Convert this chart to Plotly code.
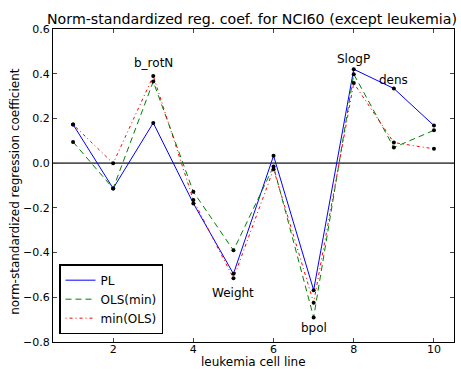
import plotly.graph_objects as go

cell_line = [1, 2, 3, 4, 5, 6, 7, 8, 9, 10]
pl = [0.173, -0.113, 0.180, -0.180, -0.495, 0.033, -0.568, 0.420, 0.334, 0.168]
ols_min = [0.095, -0.113, 0.365, -0.128, -0.390, -0.015, -0.690, 0.398, 0.070, 0.147]
min_ols = [0.173, -0.001, 0.390, -0.165, -0.515, -0.027, -0.624, 0.358, 0.092, 0.064]

labels = ["b_rotN", "Weight", "bpol", "SlogP", "dens"]
label_x = [3, 5, 7, 8, 9]
label_y = [0.448, -0.58, -0.737, 0.468, 0.37]

y_ticks = [-0.8, -0.6, -0.4, -0.2, 0.0, 0.2, 0.4, 0.6]
x_ticks = [2, 4, 6, 8, 10]

font = "DejaVu Sans"
fig = go.Figure()

fig.add_shape(type="line", xref="paper", x0=0, x1=1, yref="y", y0=0, y1=0,
              line=dict(color="#555555", width=1.6), layer="below")

fig.add_trace(go.Scatter(x=cell_line, y=pl, mode="lines", name="PL",
                         line=dict(color="#0000ff", width=1)))
fig.add_trace(go.Scatter(x=cell_line, y=ols_min, mode="lines", name="OLS(min)",
                         line=dict(color="#008000", width=1, dash="6px,4px")))
fig.add_trace(go.Scatter(x=cell_line, y=min_ols, mode="lines", name="min(OLS)",
                         line=dict(color="#ff0000", width=1, dash="1px,3px,3px,3px")))
for ys in (pl, ols_min, min_ols):
    fig.add_trace(go.Scatter(x=cell_line, y=ys, mode="markers", showlegend=False,
                             marker=dict(color="black", size=4), hoverinfo="skip"))

for t, x, y in zip(labels, label_x, label_y):
    fig.add_annotation(x=x, y=y, text=t, showarrow=False,
                       font=dict(family=font, size=12, color="black"))

# title and axis titles as annotations for precise placement
fig.add_annotation(xref="paper", yref="paper", x=0.497, y=1.0, yshift=10,
                   text="Norm-standardized reg. coef. for NCI60 (except leukemia)",
                   showarrow=False, xanchor="center", yanchor="middle",
                   font=dict(family=font, size=14.2, color="black"))
fig.add_annotation(xref="paper", yref="paper", x=0.5, y=0, yshift=-20,
                   text="leukemia cell line", showarrow=False,
                   xanchor="center", yanchor="middle",
                   font=dict(family=font, size=12, color="black"))
fig.add_annotation(xref="paper", yref="paper", x=0, xshift=-38, y=0.48,
                   text="norm-standardized regression coefficient", showarrow=False,
                   textangle=-90, xanchor="center", yanchor="middle",
                   font=dict(family=font, size=12, color="black"))

fig.update_layout(
    width=461, height=369,
    margin=dict(l=53, r=7, t=29, b=27),
    paper_bgcolor="white", plot_bgcolor="white",
    font=dict(family=font, color="black", size=11),
    legend=dict(x=0.015, y=0.025, xanchor="left", yanchor="bottom",
                bgcolor="white", bordercolor="black", borderwidth=1.5,
                font=dict(family=font, size=12), itemwidth=30,
                tracegroupgap=0),
    showlegend=True,
)
fig.update_xaxes(range=[0.5, 10.5], tickvals=x_ticks, ticks="inside", ticklen=4,
                 showline=True, linecolor="black", linewidth=1, mirror="allticks",
                 showgrid=False, zeroline=False, automargin=False,
                 ticklabelstandoff=-3,
                 tickfont=dict(family=font, size=11))
fig.update_yaxes(range=[-0.8, 0.6], tickvals=y_ticks, tickformat=".1f",
                 ticks="inside", ticklen=4,
                 showline=True, linecolor="black", linewidth=1, mirror="allticks",
                 showgrid=False, zeroline=False, automargin=False,
                 tickfont=dict(family=font, size=11))

fig.write_html("out.html")
